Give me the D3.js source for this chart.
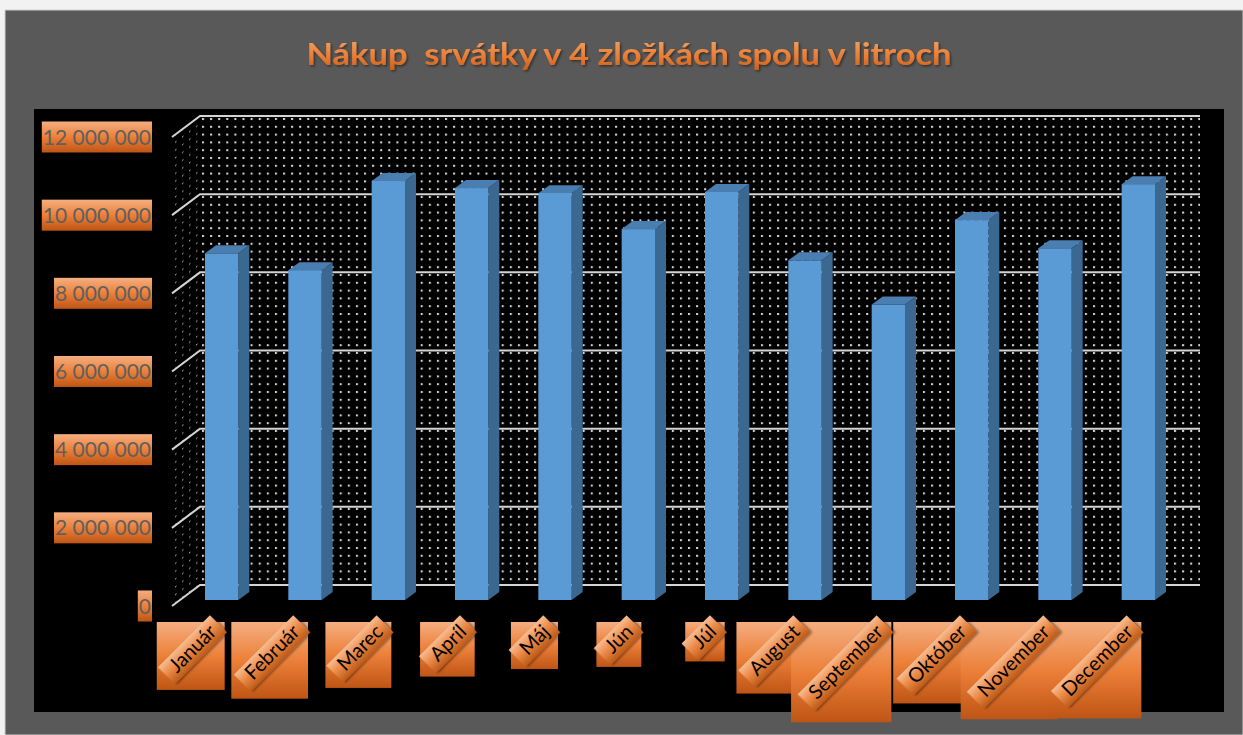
<!DOCTYPE html>
<html>
<head>
<meta charset="utf-8">
<script src="https://cdn.jsdelivr.net/npm/d3@7"></script>
<style>
  body { margin: 0; background: #fff; }
  svg { display: block; }
</style>
</head>
<body>
<svg id="chart" width="1243" height="735"></svg>
<script>
// data
const months = ["Január", "Február", "Marec", "Apríl", "Máj", "Jún", "Júl", "August", "September", "Október", "November", "December"];
const litres = [8870000, 8440000, 10720000, 10540000, 10410000, 9490000, 10440000, 8690000, 7560000, 9720000, 9000000, 10640000];
const yTicks = [0, 2000000, 4000000, 6000000, 8000000, 10000000, 12000000];
const chartTitle = "Nákup  srvátky v 4 zložkách spolu v litroch";

const svg = d3.select("#chart");
const defs = svg.append("defs");

// 3d layout: back wall, bar plane and front edge
const wall = { left: 200, right: 1200, top: 116, bottom: 585 };
const wallDepth = { dx: -28, dy: 21 };
const barPlane = { dx: -20, dy: 15 };
const barDepth = { dx: 11, dy: -8 };

const yBack = d3.scaleLinear().domain([0, 12000000]).range([wall.bottom, wall.top]);
const x = d3.scaleBand()
  .domain(months)
  .range([wall.left + barPlane.dx, wall.right + barPlane.dx])
  .paddingInner(0.6)
  .paddingOuter(0.3);
const yBar = v => yBack(v) + barPlane.dy;

const fmt = v => d3.format(",")(v).replace(/,/g, " ");

// gradients
const orange = defs.append("linearGradient").attr("id", "orange")
  .attr("x1", 0).attr("y1", 0).attr("x2", 0).attr("y2", 1);
orange.append("stop").attr("offset", "0%").attr("stop-color", "#f4ae80");
orange.append("stop").attr("offset", "50%").attr("stop-color", "#ec8039");
orange.append("stop").attr("offset", "100%").attr("stop-color", "#bf5515");

const band = defs.append("linearGradient").attr("id", "band")
  .attr("x1", 0).attr("y1", 0).attr("x2", 0).attr("y2", 1);
band.append("stop").attr("offset", "0%").attr("stop-color", "#f7bd92");
band.append("stop").attr("offset", "45%").attr("stop-color", "#ec8a48");
band.append("stop").attr("offset", "100%").attr("stop-color", "#bd5a18");

const titleGrad = defs.append("linearGradient").attr("id", "titleGrad")
  .attr("x1", 0).attr("y1", 0).attr("x2", 0).attr("y2", 1);
titleGrad.append("stop").attr("offset", "0%").attr("stop-color", "#f6a86a");
titleGrad.append("stop").attr("offset", "60%").attr("stop-color", "#ea7c34");
titleGrad.append("stop").attr("offset", "100%").attr("stop-color", "#c95d17");

const shadow = defs.append("filter").attr("id", "shadow")
  .attr("x", "-20%").attr("y", "-20%").attr("width", "140%").attr("height", "140%");
shadow.append("feDropShadow").attr("dx", 1.5).attr("dy", 1.5).attr("stdDeviation", 1.2)
  .attr("flood-color", "#000").attr("flood-opacity", 0.45);

// dotted wall patterns
const dots = defs.append("pattern").attr("id", "dots")
  .attr("patternUnits", "userSpaceOnUse").attr("width", 8.1).attr("height", 7.8)
  .attr("x", wall.left + 2).attr("y", wall.top + 2);
dots.append("rect").attr("width", 2).attr("height", 2).attr("fill", "#d8d8d8");

const sideDots = defs.append("pattern").attr("id", "sideDots")
  .attr("patternUnits", "userSpaceOnUse").attr("width", 7).attr("height", 7.8)
  .attr("patternTransform", "skewY(-36.87)");
sideDots.append("rect").attr("width", 1.4).attr("height", 1.4).attr("fill", "#8f8f8f");

// background
svg.append("rect").attr("width", 1243).attr("height", 735).attr("fill", "#f2f2f2");
svg.append("rect").attr("x", 5).attr("y", 10).attr("width", 1238).attr("height", 725)
  .attr("fill", "#595959").attr("stroke", "#cfcfcf").attr("stroke-width", 1);
svg.append("rect").attr("x", 34).attr("y", 109).attr("width", 1190).attr("height", 603)
  .attr("fill", "#000");

// title
svg.append("text")
  .attr("x", 629).attr("y", 65)
  .attr("text-anchor", "middle")
  .attr("font-family", "Lato, 'Open Sans', sans-serif")
  .attr("font-weight", "bold")
  .attr("font-size", 30)
  .attr("textLength", 645)
  .attr("lengthAdjust", "spacingAndGlyphs")
  .style("white-space", "pre")
  .attr("fill", "url(#titleGrad)")
  .attr("filter", "url(#shadow)")
  .text(chartTitle);

// walls
svg.append("rect")
  .attr("x", wall.left).attr("y", wall.top)
  .attr("width", wall.right - wall.left).attr("height", wall.bottom - wall.top)
  .attr("fill", "url(#dots)");
svg.append("path")
  .attr("d", `M${wall.left},${wall.top}L${wall.left + wallDepth.dx},${wall.top + wallDepth.dy}` +
    `L${wall.left + wallDepth.dx},${wall.bottom + wallDepth.dy}L${wall.left},${wall.bottom}Z`)
  .attr("fill", "url(#sideDots)");

// gridlines
const grid = svg.append("g").attr("stroke", "#d4d4d4").attr("stroke-width", 2).attr("fill", "none");
grid.selectAll("path").data(yTicks).enter().append("path")
  .attr("d", d => `M${wall.left + wallDepth.dx},${yBack(d) + wallDepth.dy}L${wall.left},${yBack(d)}L${wall.right},${yBack(d)}`);

// bars
const bars = svg.append("g").selectAll("g").data(months).enter().append("g");
const w = x.bandwidth();
const base = yBar(0);
bars.append("path")
  .attr("fill", "#3a6891")
  .attr("d", (m, i) => {
    const x1 = x(m) + w, y1 = yBar(litres[i]);
    return `M${x1},${y1}L${x1 + barDepth.dx},${y1 + barDepth.dy}L${x1 + barDepth.dx},${base + barDepth.dy}L${x1},${base}Z`;
  });
bars.append("path")
  .attr("fill", "#4a7db0")
  .attr("d", (m, i) => {
    const x0 = x(m), y0 = yBar(litres[i]);
    return `M${x0},${y0}L${x0 + barDepth.dx},${y0 + barDepth.dy}L${x0 + w + barDepth.dx},${y0 + barDepth.dy}L${x0 + w},${y0}Z`;
  });
bars.append("rect")
  .attr("x", m => x(m))
  .attr("y", (m, i) => yBar(litres[i]))
  .attr("width", w)
  .attr("height", (m, i) => base - yBar(litres[i]))
  .attr("fill", "#5b9bd5");

// value axis labels
const yLab = svg.append("g").selectAll("g").data(yTicks).enter().append("g")
  .attr("transform", d => `translate(152,${yBack(d) + wallDepth.dy})`);
const yText = yLab.append("text")
  .attr("x", -1).attr("y", 7.5)
  .attr("text-anchor", "end")
  .attr("font-family", "Lato, sans-serif")
  .attr("font-size", 21)
  .attr("fill", "#5f5f5f")
  .text(fmt);
yText.each(function () {
  const b = this.getBBox();
  d3.select(this.parentNode).insert("rect", "text")
    .attr("x", b.x - 1).attr("y", -15.5)
    .attr("width", -b.x + 1).attr("height", 31)
    .attr("fill", "url(#orange)");
});

// category labels: boxes first, then rotated bands and text
const labTop = 622;
const boxLayer = svg.append("g");
const textLayer = svg.append("g");
const catG = textLayer.selectAll("g").data(months).enter().append("g")
  .attr("transform", m => `translate(${x(m) + w / 2 - 4},${labTop + 11}) rotate(-45)`);
const catText = catG.append("text")
  .attr("text-anchor", "end")
  .attr("font-family", "Lato, sans-serif")
  .attr("font-size", 20)
  .attr("fill", "#000")
  .text(m => m);
catText.each(function (m) {
  const L = this.getComputedTextLength();
  const side = 0.85 * L + 19;
  const right = x(m) + w / 2 + 3;
  boxLayer.append("rect")
    .attr("x", right - side).attr("y", labTop)
    .attr("width", side).attr("height", side)
    .attr("fill", "url(#orange)");
  d3.select(this.parentNode).insert("rect", "text")
    .attr("x", -L - 9).attr("y", -18)
    .attr("width", L + 16).attr("height", 24)
    .attr("fill", "url(#band)")
    .attr("filter", "url(#shadow)");
});
</script>
</body>
</html>
